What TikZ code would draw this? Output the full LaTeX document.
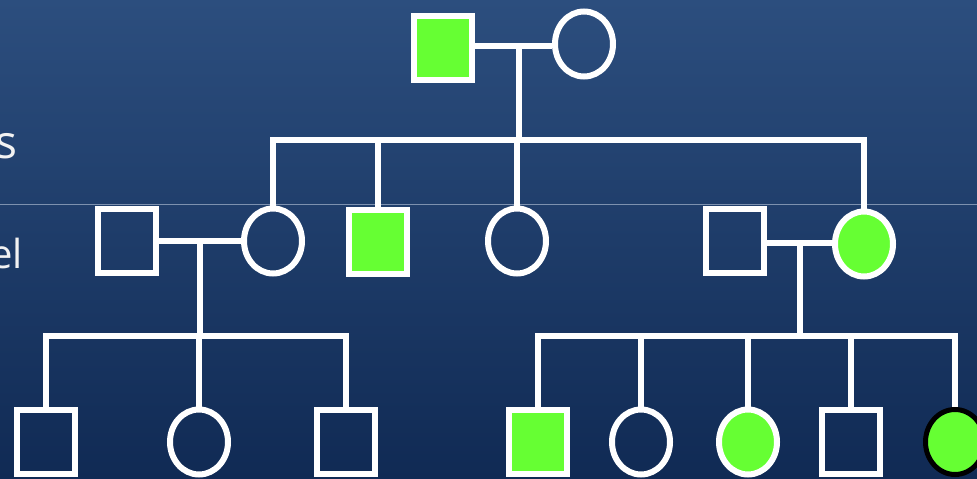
\documentclass[tikz,border=0pt]{standalone}
\usepackage{fontspec}
\setmainfont{Open Sans}
\usetikzlibrary{shapes.geometric}
\definecolor{bgtop}{RGB}{44,78,126}
\definecolor{bgbot}{RGB}{16,42,84}
\definecolor{affgreen}{RGB}{102,255,51}
\definecolor{divider}{RGB}{125,145,175}
\definecolor{txt}{RGB}{242,242,242}
\begin{document}
\begin{tikzpicture}[x=1pt,y=-1pt,
  male/.style={rectangle, draw=white, line width=6pt, minimum width=58pt, minimum height=64pt, inner sep=0pt},
  female/.style={ellipse, draw=white, line width=6pt, minimum width=58pt, minimum height=65pt, inner sep=0pt},
  affected/.style={fill=affgreen},
  link/.style={draw=white, line width=6pt},
  label/.style={anchor=base east, text=txt, inner sep=0pt}]
\useasboundingbox (0,0) rectangle (977,479);
\shade[top color=bgtop, bottom color=bgbot] (0,0) rectangle (977,479);
\draw[divider, line width=1pt] (0,204.5) -- (977,204.5);
% text fragments
\node[label, font=\fontsize{46}{46}\selectfont] (t1) at (18,158) {s};
\node[label, font=\fontsize{40}{40}\selectfont] (t2) at (23,268) {el};
% generation I
\node[male, affected] (A) at (443,48) {};
\node[female] (B) at (584,44) {};
\coordinate (m1) at (519,46);
\coordinate (s1) at (519,140);
% generation II
\node[male] (C) at (127,241) {};
\node[female] (D) at (273,241) {};
\node[male, affected] (E) at (378,242) {};
\node[female] (F) at (517,241) {};
\node[male] (G) at (735,241) {};
\node[female, affected] (H) at (864,244) {};
\coordinate (m2) at (200,241);
\coordinate (s2) at (200,336);
\coordinate (m3) at (800,243);
\coordinate (s3) at (800,336);
% generation III
\node[male] (I) at (46,442) {};
\node[female] (J) at (199,442) {};
\node[male] (K) at (346,442) {};
\node[male, affected] (L) at (538,442) {};
\node[female] (M) at (641,442) {};
\node[female, affected] (N) at (748,442) {};
\node[male] (O) at (851,442) {};
\node[female, affected, draw=black, line width=5pt, minimum width=59pt, minimum height=65pt] (P) at (955,442) {};
% connectors
\draw[link] (A.east |- m1) -- (B.west |- m1);
\draw[link] (m1) -- (s1);
\draw[link] (D.north) |- (H.north |- s1) -- (H.north);
\draw[link] (E.north) -- (E.north |- s1);
\draw[link] (F.north) -- (F.north |- s1);
\draw[link] (C.east |- m2) -- (D.west |- m2);
\draw[link] (m2) -- (s2);
\draw[link] (I.north) |- (K.north |- s2) -- (K.north);
\draw[link] (J.north) -- (J.north |- s2);
\draw[link] (G.east |- m3) -- (H.west |- m3);
\draw[link] (m3) -- (s3);
\draw[link] (L.north) |- (P.north |- s3) -- (P.north);
\draw[link] (M.north) -- (M.north |- s3);
\draw[link] (N.north) -- (N.north |- s3);
\draw[link] (O.north) -- (O.north |- s3);
\end{tikzpicture}
\end{document}
